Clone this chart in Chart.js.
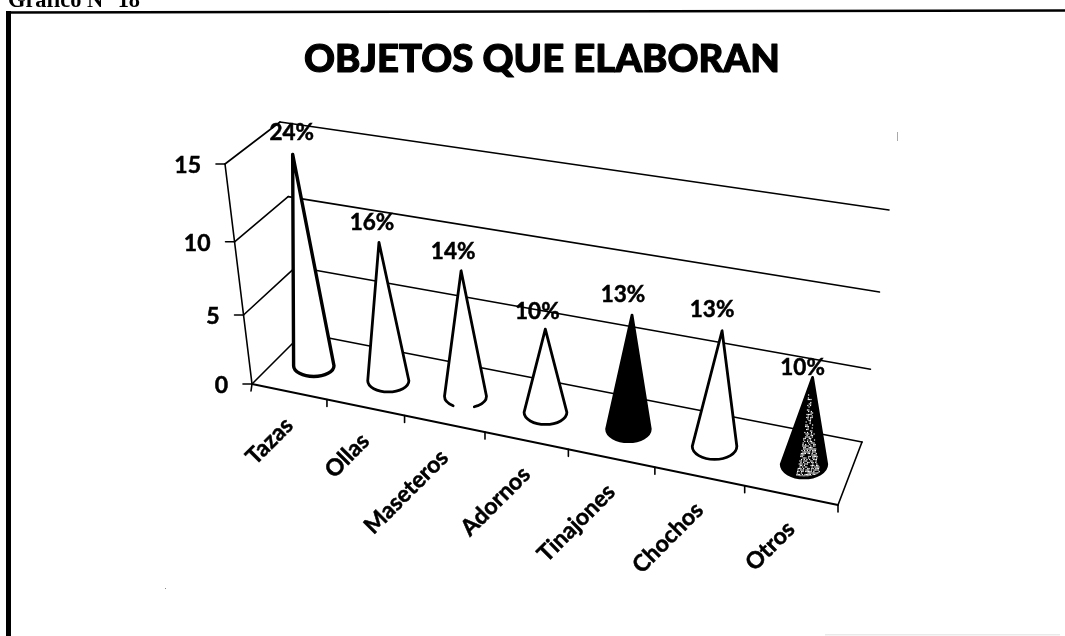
<!DOCTYPE html>
<html lang="es">
<head>
<meta charset="utf-8">
<title>Objetos que elaboran</title>
<script src="https://cdn.jsdelivr.net/npm/chart.js@4"></script>
<style>
html,body{margin:0;padding:0;background:#fff;overflow:hidden}
#wrap{position:absolute;left:0;top:0;width:1065px;height:636px}
</style>
</head>
<body>
<div id="wrap"><canvas id="c" width="1065" height="636"></canvas></div>
<script>
// ---- data ----
const categories = ['Tazas','Ollas','Maseteros','Adornos','Tinajones','Chochos','Otros'];
const values = [15,10,9,6,8,8,6];
const percentLabels = ['24%','16%','14%','10%','13%','13%','10%'];
const yTicks = [0,5,10,15];
const chartTitle = 'OBJETOS QUE ELABORAN';
const pageHeading = 'Gráfico N° 18';

// ---- appearance ----
const coneLooks = ['white','white','open','white','black','white','speckle'];
const labelNudges = [[-1,-22],[-7,-20],[-8,-19],[-8,-17],[-9,-20],[-10,-21],[-10,-10]];
const FONT = 'Lato, "Open Sans", sans-serif';
const TITLE_SIZE = 38.3;
// 3-D box of the plot in picture space: f/b = front/back, l/r = left/right, 0/1 = floor/top
const BOX = {
  fl0:[252,384], fr0:[838,505], bl0:[303,333], br0:[862,442],
  fl1:[225,164], fr1:[866,263], bl1:[280,122], br1:[889,210]
};
const WARP_X = 0.88, WARP_Y = 0.914, CONE_DEPTH = 0.5, CONE_SCALE = 0.975;
const warp = (u,k) => u*k/(u*k+1-u);
const mix = (a,b,s) => [a[0]+(b[0]-a[0])*s, a[1]+(b[1]-a[1])*s];

// u: 0..1 across the categories, h: 0..1 up the value axis, d: 0 front .. 1 back
function place(u,h,d){
  const s = warp(u,WARP_X), w = warp(h,WARP_Y);
  const floor = mix(mix(BOX.fl0,BOX.fr0,s), mix(BOX.bl0,BOX.br0,s), d);
  const top   = mix(mix(BOX.fl1,BOX.fr1,s), mix(BOX.bl1,BOX.br1,s), d);
  return mix(floor,top,w);
}
const uOf = (chart,px) => { const a = chart.chartArea; return (px-a.left)/(a.right-a.left); };
const hOf = (chart,py) => { const a = chart.chartArea; return (a.bottom-py)/(a.bottom-a.top); };
const coneBase = (chart,el) => place(uOf(chart,el.x),0,CONE_DEPTH);
const coneTip = (chart,el) => mix(coneBase(chart,el),place(uOf(chart,el.x),hOf(chart,el.y),CONE_DEPTH),CONE_SCALE);

function line(ctx,a,b,w){
  ctx.beginPath(); ctx.moveTo(a[0],a[1]); ctx.lineTo(b[0],b[1]);
  ctx.lineWidth = w||1.6; ctx.strokeStyle = '#000'; ctx.stroke();
}

// Cones: a bar controller whose bars are drawn as cones standing on the box floor
class ConeController extends Chart.BarController {
  draw(){
    const chart = this.chart, ctx = chart.ctx;
    const meta = this.getMeta();
    meta.data.forEach((el,i) => {
      const u = uOf(chart,el.x);
      const c = coneBase(chart,el), tip = coneTip(chart,el);
      const s = warp(u,WARP_X);
      const rx = 20+3*s, ry = 10.5+3.5*s;
      const look = coneLooks[i];
      ctx.save();
      ctx.lineJoin = 'round'; ctx.lineCap = 'round';
      ctx.beginPath();
      ctx.moveTo(tip[0],tip[1]);
      ctx.lineTo(c[0]-rx,c[1]);
      ctx.ellipse(c[0],c[1],rx,ry,0,Math.PI,0,true);
      ctx.closePath();
      ctx.fillStyle = (look==='black'||look==='speckle') ? '#000' : '#fff';
      ctx.fill();
      if (look==='speckle'){
        ctx.save(); ctx.clip();
        ctx.fillStyle = '#fff';
        for (let yy=tip[1]+14; yy<c[1]+ry; yy+=1.5){
          const f = (yy-tip[1])/(c[1]+ry-tip[1]);
          const half = 1.5+f*f*rx*0.55;
          for (let xx=-half; xx<half; xx+=1.5){
            const q = Math.sin((xx+3)*12.9898+yy*78.233)*43758.5453;
            if (q-Math.floor(q) < 0.22+f*0.5) ctx.fillRect(c[0]+4+xx*0.9+(1-f)*2,yy,1.2,1.2);
          }
        }
        ctx.restore();
      }
      ctx.strokeStyle = '#000';
      ctx.lineWidth = i===0 ? 3.4 : 2.8;
      if (look==='open'){
        ctx.beginPath();
        ctx.moveTo(c[0]+rx*0.42,c[1]+ry*0.9);
        ctx.ellipse(c[0],c[1],rx,ry,0,Math.PI*0.3,0,true);
        ctx.lineTo(tip[0],tip[1]);
        ctx.lineTo(c[0]-rx,c[1]);
        ctx.ellipse(c[0],c[1],rx,ry,0,Math.PI,Math.PI*0.7,true);
        ctx.stroke();
      } else {
        ctx.stroke();
      }
      ctx.restore();
    });
  }
}
ConeController.id = 'cone';
ConeController.defaults = Chart.BarController.defaults;
ConeController.overrides = Chart.BarController.overrides;
Chart.register(ConeController);

// The scales keep their own labels; only their placement follows the slanted box
function setLabel(it,pos,align,rot){
  it.textOffset = 0;
  it.options.translation = pos;
  it.options.textAlign = align;
  it.options.textBaseline = 'middle';
  it.options.rotation = rot;
}
function slantYLabels(scale){
  const base = Object.getPrototypeOf(scale).getLabelItems;
  scale._computeLabelArea = () => undefined;
  scale.getLabelItems = function(area){
    const items = base.call(this,area);
    items.forEach((it,i) => {
      const tick = this.ticks[i];
      const p = place(0,hOf(this.chart,this.getPixelForValue(tick.value)),0);
      setLabel(it,[p[0]-24,p[1]+2],'right',0);
    });
    return items;
  };
}
function slantXLabels(scale){
  const base = Object.getPrototypeOf(scale).getLabelItems;
  scale._computeLabelArea = () => undefined;
  scale.getLabelItems = function(area){
    const items = base.call(this,area);
    items.forEach((it,i) => {
      const p = place(uOf(this.chart,this.getPixelForTick(i)),0,0);
      setLabel(it,[p[0],p[1]+30],'right',-Math.PI/4);
    });
    return items;
  };
}

const sheet = {
  id:'sheet',
  beforeDraw(chart){
    const ctx = chart.ctx;
    ctx.save();
    ctx.fillStyle = '#fff'; ctx.fillRect(0,0,chart.width,chart.height);
    ctx.fillStyle = '#000'; ctx.font = 'bold 22.4px "Liberation Serif", serif';
    ctx.textAlign = 'left'; ctx.textBaseline = 'alphabetic';
    ctx.fillText(pageHeading,8,7);
    line(ctx,[6,12.5],[1065,10.5],2.6);
    line(ctx,[8.5,11],[8.5,636],5);
    ctx.fillStyle = '#aaa'; ctx.fillRect(897,132,1,9);
    ctx.fillStyle = '#888'; ctx.fillRect(165,588,1,1);
    ctx.fillStyle = '#e9e9e9'; ctx.fillRect(825,634,235,1.5);
    ctx.restore();
  },
  afterDraw(chart){
    // thickens the title the way the scanned print does
    const t = chart.titleBlock, ctx = chart.ctx;
    ctx.save();
    ctx.font = '900 '+TITLE_SIZE+'px '+FONT;
    ctx.textAlign = 'center'; ctx.textBaseline = 'middle';
    ctx.strokeStyle = '#000'; ctx.lineWidth = 1.1; ctx.lineJoin = 'round';
    ctx.strokeText(chartTitle,(t.left+t.right)/2,t.top+37+TITLE_SIZE*0.6);
    ctx.restore();
  }
};

const boxFrame = {
  id:'boxFrame',
  beforeDatasetsDraw(chart){
    const ctx = chart.ctx, y = chart.scales.y;
    ctx.save(); ctx.lineCap = 'round';
    // value levels on the left and back walls, with their ticks
    y.ticks.forEach(t => {
      const h = hOf(chart,y.getPixelForValue(t.value));
      const f = place(0,h,0), b = place(0,h,1), r = place(1,h,1);
      line(ctx,f,b); line(ctx,b,r);
      line(ctx,[f[0]-9,f[1]],f);
    });
    // value axis, floor edges
    line(ctx,place(0,0,0),place(0,1,0));
    line(ctx,place(0,0,0),place(1,0,0),1.8);
    line(ctx,place(1,0,0),place(1,0,1));
    // category ticks
    categories.forEach((_,i) => {
      const p = place((i+1)/categories.length,0,0);
      line(ctx,p,[p[0],p[1]+7]);
    });
    const p0 = place(0,0,0);
    line(ctx,p0,[p0[0]-1,p0[1]+7]);
    ctx.restore();
  },
  afterDatasetsDraw(chart){
    const ctx = chart.ctx, meta = chart.getDatasetMeta(0);
    ctx.save();
    ctx.fillStyle = '#000'; ctx.font = 'bold 22.5px '+FONT;
    ctx.strokeStyle = '#000'; ctx.lineWidth = 0.5;
    ctx.textAlign = 'center'; ctx.textBaseline = 'middle';
    meta.data.forEach((el,i) => {
      const tip = coneTip(chart,el);
      const x = tip[0]+labelNudges[i][0], y = tip[1]+labelNudges[i][1];
      ctx.fillText(percentLabels[i],x,y);
      ctx.strokeText(percentLabels[i],x,y);
    });
    ctx.restore();
  }
};

new Chart(document.getElementById('c'),{
  type:'cone',
  data:{labels:categories,datasets:[{label:'Objetos',data:values,clip:false}]},
  plugins:[sheet,boxFrame],
  options:{
    responsive:false,animation:false,
    layout:{padding:{left:19,right:0,top:0,bottom:0}},
    plugins:{
      legend:{display:false},tooltip:{enabled:false},
      title:{display:true,text:chartTitle,color:'#000',
        font:{family:FONT,size:TITLE_SIZE,weight:900},padding:{top:37,bottom:8}}
    },
    scales:{
      x:{type:'category',offset:true,grid:{display:false},border:{display:false},
        ticks:{autoSkip:false,maxRotation:0,minRotation:0,color:'#000',
          textStrokeColor:'#000',textStrokeWidth:0.5,
          font:{family:FONT,size:23,weight:'bold'}},
        afterUpdate:slantXLabels},
      y:{type:'linear',min:0,max:15,grid:{display:false},border:{display:false},
        afterBuildTicks(s){ s.ticks = yTicks.map(v => ({value:v})); },
        ticks:{color:'#000',textStrokeColor:'#000',textStrokeWidth:0.5,
          font:{family:FONT,size:23,weight:'bold'}},
        afterUpdate:slantYLabels}
    }
  }
});
</script>
</body>
</html>
